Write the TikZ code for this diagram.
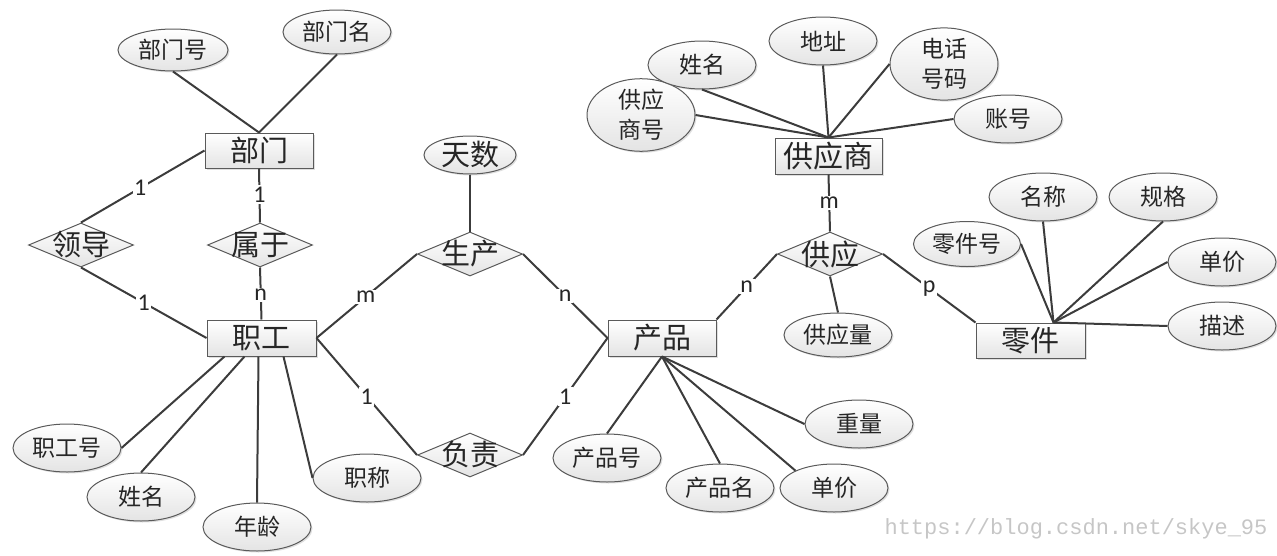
\documentclass[tikz,border=0pt]{standalone}
\usepackage{fontspec}
\newfontfamily\cjk{Noto Sans CJK SC}
\newfontfamily\labf{Carlito}
\newfontfamily\wmf{Liberation Mono}
\usetikzlibrary{shapes.geometric,shadows}
\definecolor{linec}{HTML}{3C3C3C}
\definecolor{bordc}{HTML}{5A5A5A}
\definecolor{fillb}{HTML}{E4E4E4}
\tikzset{
  shapebase/.style={draw=bordc, line width=1pt, top color=white, bottom color=fillb, text=black!85, inner sep=0pt},
  softshadow/.style={drop shadow={shadow xshift=1.5pt, shadow yshift=-1.5pt, opacity=0.25}},
  entity/.style={shapebase, softshadow, rectangle, minimum width=108pt, minimum height=35pt, font=\cjk\fontsize{29}{30}\selectfont},
  attr/.style={shapebase, softshadow, ellipse, minimum width=108pt, minimum height=48pt, font=\cjk\fontsize{23}{28}\selectfont},
  relbox/.style={shapebase, diamond, minimum width=105pt, minimum height=44pt},
  reltext/.style={font=\cjk\fontsize{29}{30}\selectfont, text=black!85, inner sep=0pt},
  conn/.style={draw=linec, line width=2pt},
  card/.style={fill=white, inner sep=1.5pt, font=\labf\fontsize{24}{24}\selectfont, text=black!85},
}
\begin{document}
\begin{tikzpicture}[x=1pt, y=-1pt]
\useasboundingbox (0,0) rectangle (1277,555);

% ---------- entities ----------
\node[entity] (bm) at (259,150.5) {部门};
\node[entity, minimum width=109pt, minimum height=36pt] (zg) at (261.5,338) {职工};
\node[entity, minimum height=36pt] (cp) at (662,338) {产品};
\node[entity, minimum width=107pt, minimum height=36pt, font=\cjk\fontsize{30}{31}\selectfont] (gys) at (828.5,156) {供应商};
\node[entity, minimum width=109pt] (lj) at (1030.5,340.5) {零件};

% ---------- relationships ----------
\node[relbox, label={[reltext]center:领导}] (ld) at (81,245) {};
\node[relbox, label={[reltext]center:属于}] (sy) at (260,245) {};
\node[relbox, label={[reltext]center:生产}] (sc) at (470,254) {};
\node[relbox, label={[reltext]center:负责}] (fz) at (470,455) {};
\node[relbox, label={[reltext]center:供应}] (gy) at (830,254) {};

% ---------- attributes ----------
\node[attr, minimum width=110pt, minimum height=42pt] (bmh) at (173,50) {部门号};
\node[attr, minimum height=44pt] (bmm) at (337,32) {部门名};
\node[attr, minimum width=92pt, minimum height=38pt, font=\cjk\fontsize{29}{30}\selectfont] (ts) at (470,155) {天数};

\node[attr] (zgh) at (67,448) {职工号};
\node[attr] (zxm) at (141,497) {姓名};
\node[attr] (zgnl) at (257,527) {年龄};
\node[attr] (zgzc) at (367,478) {职称};

\node[attr] (cph) at (607,458) {产品号};
\node[attr] (cpm) at (720,488) {产品名};
\node[attr] (cpdj) at (834,488) {单价};
\node[attr] (cpzl) at (859,424) {重量};
\node[attr, minimum height=44pt] (gyl) at (838,335) {供应量};

\node[attr, align=center] (gysh) at (641,115) {供应\\[2pt]商号};
\node[attr] (gxm) at (702,65) {姓名};
\node[attr] (gdz) at (823,41) {地址};
\node[attr, align=center, minimum height=50pt] (gdh) at (944,64) {电话\\[2pt]号码};
\node[attr] (gzh) at (1008,119) {账号};

\node[attr, minimum width=107pt, minimum height=45pt] (ljh) at (967,244) {零件号};
\node[attr] (ljmc) at (1043,197) {名称};
\node[attr] (ljgg) at (1163,197) {规格};
\node[attr] (ljdj) at (1222,262) {单价};
\node[attr] (ljms) at (1222,326) {描述};

% ---------- meeting points ----------
\coordinate (ljtop) at ([xshift=23pt]lj.north);

% ---------- attribute connectors ----------
\draw[conn] (bmh.south) -- (bm.north);
\draw[conn] (bmm.south) -- (bm.north);
\draw[conn] (ts.south) -- (sc.north);

\draw[conn] (zgh.east) -- ([xshift=-37pt]zg.south);
\draw[conn] (zxm.north) -- ([xshift=-17pt]zg.south);
\draw[conn] (zgnl.north) -- ([xshift=-3pt]zg.south);
\draw[conn] (zgzc.west) -- ([xshift=22pt]zg.south);

\draw[conn] (cph.north) -- (cp.south);
\draw[conn] (cpm.north) -- (cp.south);
\draw[conn] (cpdj.north west) -- (cp.south);
\draw[conn] (cpzl.west) -- (cp.south);
\draw[conn] (gyl.north) -- (gy.south);

\draw[conn] (gysh.east) -- (gys.north);
\draw[conn] (gxm.south) -- (gys.north);
\draw[conn] (gdz.south) -- (gys.north);
\draw[conn] (gdh.west) -- (gys.north);
\draw[conn] (gzh.west) -- (gys.north);

\draw[conn] (ljh.east) -- (ljtop);
\draw[conn] (ljmc.south) -- (ljtop);
\draw[conn] (ljgg.south) -- (ljtop);
\draw[conn] (ljdj.west) -- (ljtop);
\draw[conn] (ljms.west) -- (ljtop);

% ---------- relationship connectors ----------
\draw[conn] (bm.west) -- node[card, pos=0.52] {1} (ld.north);
\draw[conn] (ld.south) -- node[card, pos=0.5] {1} (zg.west);
\draw[conn] (bm.south) -- node[card, pos=0.48] {1} (sy.north);
\draw[conn] (sy.south) -- node[card, pos=0.53] {n} (zg.north);
\draw[conn] (zg.east) -- node[card, pos=0.49] {m} (sc.west);
\draw[conn] (sc.east) -- node[card, pos=0.5] {n} (cp.west);
\draw[conn] (zg.east) -- node[card, pos=0.5] {1} (fz.west);
\draw[conn] (fz.east) -- node[card, pos=0.5] {1} (cp.west);
\draw[conn] (cp.north east) -- node[card, pos=0.5] {n} (gy.west);
\draw[conn] (gys.south) -- node[card, pos=0.5] {m} (gy.north);
\draw[conn] (gy.east) -- node[card, pos=0.5] {p} (lj.north west);

% ---------- watermark ----------
\node[font=\wmf\fontsize{22}{22}\selectfont, text=gray!45, inner sep=0pt] (wm) at (1076,529) {https://blog.csdn.net/skye\_95};
\end{tikzpicture}
\end{document}
